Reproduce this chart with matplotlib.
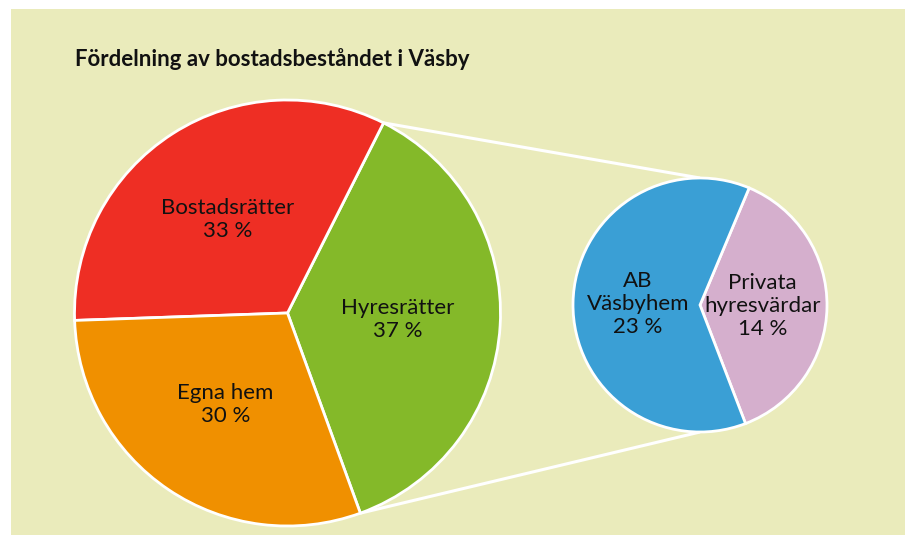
import matplotlib.pyplot as plt
from matplotlib.patches import Rectangle
import numpy as np

plt.rcParams['font.family'] = ['Lato', 'DejaVu Sans']

# main pie: housing stock in Väsby
main_labels = ["Hyresrätter", "Bostadsrätter", "Egna hem"]
main_values = [37, 33, 30]
main_colors = ["#84B929", "#EE2E24", "#F09000"]

# secondary pie: split of the rental apartments
sub_labels = ["Privata\nhyresvärdar", "AB\nVäsbyhem"]
sub_values = [14, 23]
sub_colors = ["#D5AFCD", "#3A9FD5"]

title = "Fördelning av bostadsbeståndet i Väsby"

W, H = 909, 540
fig = plt.figure(figsize=(W / 100, H / 100), dpi=100)
fig.patch.set_facecolor("white")
ax = fig.add_axes([0, 0, 1, 1])

# background panel
ax.add_patch(Rectangle((11, H - 535), 894, 526, facecolor="#EAEBBB",
                       edgecolor="none", zorder=0))

c1 = (287.5, H - 313)
r1 = 213
c2 = (700, H - 305)
r2 = 127

wp = dict(edgecolor="white", linewidth=2)
tp = dict(fontsize=16, color="#111111", linespacing=1.2)

w1, t1 = ax.pie(main_values, colors=main_colors, startangle=-70,
                center=c1, radius=r1, wedgeprops=wp, textprops=tp,
                labels=[f"{n}\n{v} %" for n, v in zip(main_labels, main_values)],
                labeldistance=0.52)
w2, t2 = ax.pie(sub_values, colors=sub_colors, startangle=-69,
                center=c2, radius=r2, wedgeprops=wp, textprops=tp,
                labels=[f"{n}\n{v} %" for n, v in zip(sub_labels, sub_values)],
                labeldistance=0.49)
for t in list(t1) + list(t2):
    t.set_ha("center")
    t.set_va("center")

# connector lines from the rental slice to the second pie
g = w1[0]
a_top = np.deg2rad(g.theta2)
a_bot = np.deg2rad(g.theta1)
ax.plot([c1[0] + r1 * np.cos(a_top), c2[0]], [c1[1] + r1 * np.sin(a_top), c2[1] + r2],
        color="white", lw=2.2, zorder=0.5, solid_capstyle="butt")
ax.plot([c1[0] + r1 * np.cos(a_bot), c2[0]], [c1[1] + r1 * np.sin(a_bot), c2[1] - r2],
        color="white", lw=2.2, zorder=0.5, solid_capstyle="butt")

ax.text(75, H - 66.5, title, fontsize=16, fontweight="bold", color="#111111",
        ha="left", va="baseline")

ax.set_xlim(0, W)
ax.set_ylim(0, H)
ax.set_aspect("equal")
ax.axis("off")

fig.savefig("out.png", dpi=100, facecolor="white")
